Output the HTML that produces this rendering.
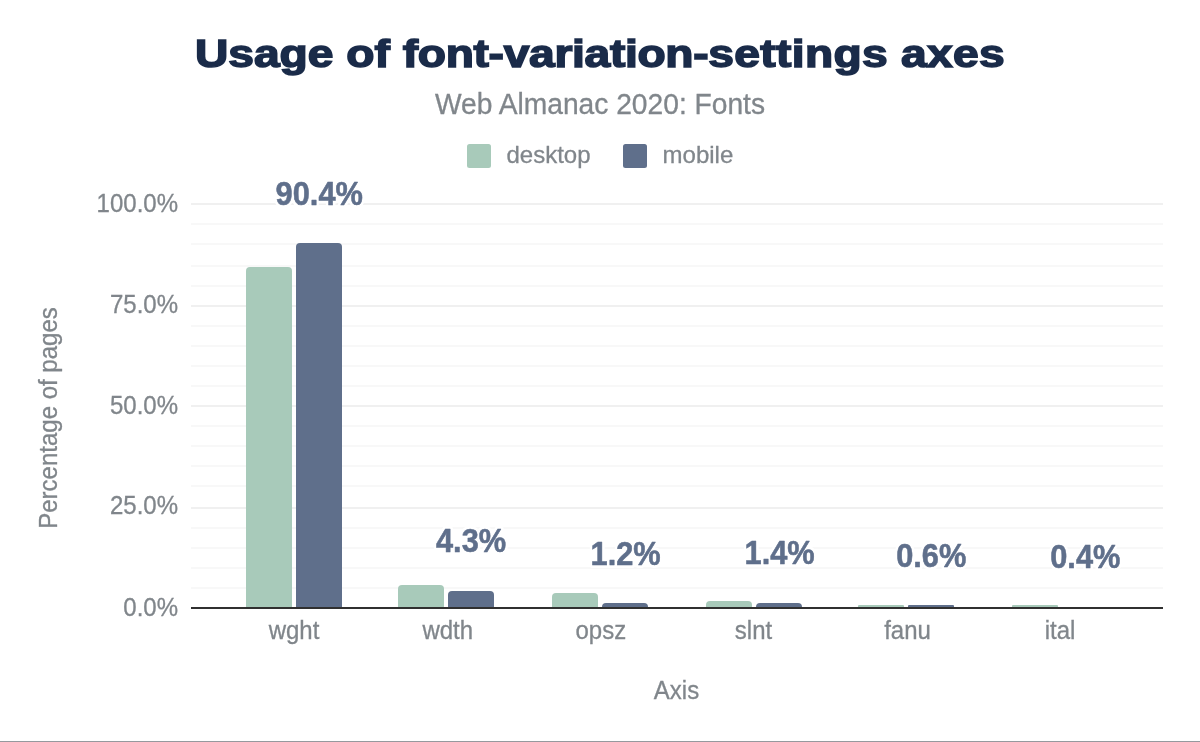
<!DOCTYPE html>
<html>
<head>
<meta charset="utf-8">
<title>Usage of font-variation-settings axes</title>
<style>
  html, body { margin: 0; padding: 0; background: #ffffff; }
  body { width: 1200px; height: 742px; overflow: hidden; position: relative;
         font-family: "Liberation Sans", sans-serif; }
  #chart { position: absolute; left: 0; top: 0; width: 1200px; height: 742px; will-change: transform; }
  .abs { position: absolute; white-space: nowrap; line-height: 1; }
  .title { left: 0; width: 1200px; top: 35px; text-align: center; font-size: 38px; font-weight: bold;
           color: #1a2b49; -webkit-text-stroke: 1.5px #1a2b49; transform: scaleX(1.215); transform-origin: 600px 0; }
  .subtitle { left: 0; width: 1200px; top: 89.6px; text-align: center; font-size: 28.2px; color: #80868b; -webkit-text-stroke: 0.3px #80868b; transform: scaleY(1.04); }
  .gray { color: #80868b; font-size: 24px; -webkit-text-stroke: 0.3px #80868b; }
  .sw { position: absolute; width: 24px; height: 24px; border-radius: 2.5px; top: 143.75px; }
  .ylab { right: 1022px; text-align: right; transform: scaleY(1.04); }
  .sy { transform: scaleY(1.04); }
  .sy2 { transform: scaleY(1.02); }
  .xlab { width: 160px; text-align: center; top: 618.5px; transform: scaleY(1.04); }
  .grid { position: absolute; left: 191px; width: 972px; height: 2px; background: #f8f8f8; }
  .grid.major { background: #f0f0f0; }
  .axis { position: absolute; left: 191px; width: 972px; height: 2px; top: 607px; background: #303030; }
  .bar { position: absolute; width: 46px; border-radius: 4px 4px 0 0; }
  .d { background: #a8caba; }
  .m { background: #5f6f8b; }
  .bottomline { position: absolute; left: 0; top: 741px; width: 1200px; height: 1px; background: #96999e; }
</style>
</head>
<body>
 <div id="chart">
  <div class="abs title">Usage of <span style="letter-spacing:-0.26px">font-variation-</span><span style="letter-spacing:0.28px">settings</span> <span style="letter-spacing:0.3px">axes</span></div>
  <div class="abs subtitle">Web Almanac 2020: Fonts</div>

  <!-- legend -->
  <div class="sw d" style="left:467px"></div>
  <div class="abs gray sy2" style="left:506.5px; top:142.9px">desktop</div>
  <div class="sw m" style="left:623px"></div>
  <div class="abs gray sy2" style="left:662.6px; top:142.9px">mobile</div>

  <!-- grid -->
  <div class="grid major" style="top:203px"></div>
  <div class="grid" style="top:223px"></div>
  <div class="grid" style="top:243px"></div>
  <div class="grid" style="top:265px"></div>
  <div class="grid" style="top:285px"></div>
  <div class="grid major" style="top:305px"></div>
  <div class="grid" style="top:325px"></div>
  <div class="grid" style="top:345px"></div>
  <div class="grid" style="top:365px"></div>
  <div class="grid" style="top:385px"></div>
  <div class="grid major" style="top:405px"></div>
  <div class="grid" style="top:425px"></div>
  <div class="grid" style="top:445px"></div>
  <div class="grid" style="top:465px"></div>
  <div class="grid" style="top:485px"></div>
  <div class="grid major" style="top:507px"></div>
  <div class="grid" style="top:527px"></div>
  <div class="grid" style="top:547px"></div>
  <div class="grid" style="top:567px"></div>
  <div class="grid" style="top:587px"></div>

  <!-- y labels -->
  <div class="abs gray ylab" style="top:192px">100.0%</div>
  <div class="abs gray ylab" style="top:293.3px">75.0%</div>
  <div class="abs gray ylab" style="top:393.5px">50.0%</div>
  <div class="abs gray ylab" style="top:494.3px">25.0%</div>
  <div class="abs gray ylab" style="top:595.5px">0.0%</div>

  <!-- y title -->
  <div class="abs gray" style="left:-81.3px; top:405.5px; width:260px; text-align:center; transform: rotate(-90deg) scaleY(1.04);">Percentage of pages</div>

  <!-- bars -->
  <div class="bar d" style="left:246px; top:267px; height:340px"></div>
  <div class="bar m" style="left:296px; top:243px; height:364px"></div>
  <div class="bar d" style="left:398px; top:585px; height:22px"></div>
  <div class="bar m" style="left:448px; top:591px; height:16px"></div>
  <div class="bar d" style="left:552px; top:593px; height:14px"></div>
  <div class="bar m" style="left:602px; top:603px; height:4px"></div>
  <div class="bar d" style="left:706px; top:601px; height:6px"></div>
  <div class="bar m" style="left:756px; top:603px; height:4px"></div>
  <div class="bar d" style="left:858px; top:605px; height:2px; border-radius:1px 1px 0 0"></div>
  <div class="bar m" style="left:908px; top:605px; height:2px; border-radius:1px 1px 0 0"></div>
  <div class="bar d" style="left:1012px; top:605px; height:2px; border-radius:1px 1px 0 0"></div>

  <div class="axis"></div>

  <!-- data labels -->
  <svg class="abs" style="left:0;top:0" width="1200" height="742" viewBox="0 0 1200 742">
   <g font-family="Liberation Sans, sans-serif" font-weight="bold" font-size="30.8" text-anchor="middle">
    <g aria-hidden="true" fill="#ffffff" stroke="#ffffff" stroke-width="5.4" stroke-linejoin="round">
     <text transform="translate(319.25 204.8) scale(1 1.1)">90.4%</text>
     <text transform="translate(471.05 551.7) scale(1 1.1)">4.3%</text>
     <text transform="translate(625.6 564.7) scale(1 1.1)">1.2%</text>
     <text transform="translate(779.6 563.8) scale(1 1.1)">1.4%</text>
     <text transform="translate(931.25 566.8) scale(1 1.1)">0.6%</text>
     <text transform="translate(1085.3 567.8) scale(1 1.1)">0.4%</text>
    </g>
    <g fill="#5f6f8b" stroke="#5f6f8b" stroke-width="0.5" stroke-linejoin="round">
     <text transform="translate(319.25 204.8) scale(1 1.1)">90.4%</text>
     <text transform="translate(471.05 551.7) scale(1 1.1)">4.3%</text>
     <text transform="translate(625.6 564.7) scale(1 1.1)">1.2%</text>
     <text transform="translate(779.6 563.8) scale(1 1.1)">1.4%</text>
     <text transform="translate(931.25 566.8) scale(1 1.1)">0.6%</text>
     <text transform="translate(1085.3 567.8) scale(1 1.1)">0.4%</text>
    </g>
   </g>
  </svg>

  <!-- x labels -->
  <div class="abs gray xlab" style="left:214px">wght</div>
  <div class="abs gray xlab" style="left:367.8px">wdth</div>
  <div class="abs gray xlab" style="left:520.8px">opsz</div>
  <div class="abs gray xlab" style="left:673.5px">slnt</div>
  <div class="abs gray xlab" style="left:827.5px">fanu</div>
  <div class="abs gray xlab" style="left:980px">ital</div>

  <div class="abs gray sy" style="left:596.5px; width:160px; text-align:center; top:678.6px">Axis</div>

  <div class="bottomline"></div>
 </div>
</body>
</html>
